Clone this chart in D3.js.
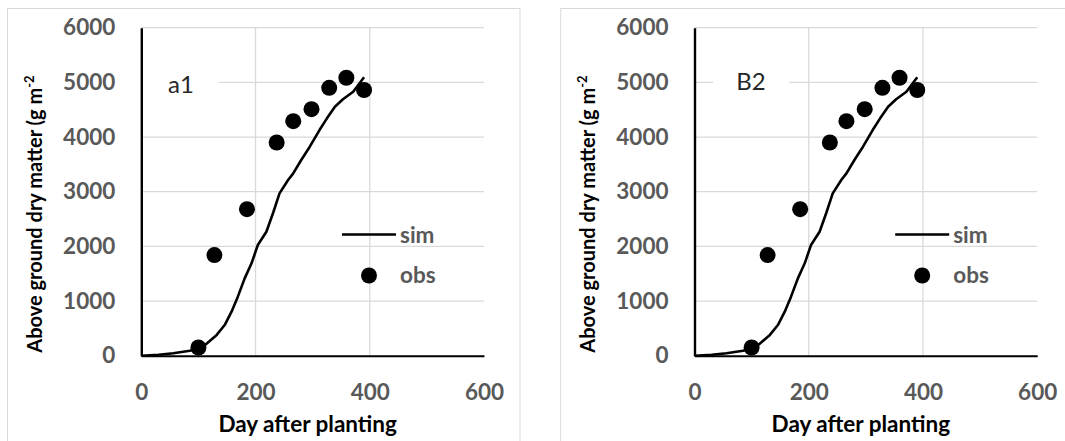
<!DOCTYPE html>
<html>
<head>
<meta charset="utf-8">
<script src="https://cdn.jsdelivr.net/npm/d3@7"></script>
<style>
  html, body { margin: 0; padding: 0; background: #fff; }
  svg { display: block; }
  text { font-family: "Lato", "Open Sans", sans-serif; }
</style>
</head>
<body>
<svg id="chart" width="1065" height="441"></svg>
<script>
// simulated above ground dry matter (line)
var simDays   = [0, 30, 56, 85, 108, 132, 146, 158, 169, 181, 193, 204, 219, 231, 242, 257, 266, 280, 295, 312, 325, 339, 353, 371, 390];
var simValues = [0, 15, 44, 91, 165, 380, 561, 805, 1080, 1415, 1690, 2025, 2268, 2620, 2970, 3214, 3336, 3580, 3823, 4128, 4342, 4555, 4690, 4829, 5092];
// observed (dots)
var obsDays   = [100, 128, 185, 237, 266, 298, 329, 359, 390];
var obsValues = [150, 1840, 2680, 3900, 4290, 4510, 4900, 5085, 4860];

var xTicks = [0, 200, 400, 600];
var yTicks = [0, 1000, 2000, 3000, 4000, 5000, 6000];
var panelLabels = ["a1", "B2"];
var legendNames = ["sim", "obs"];
var xTitle = "Day after planting";
var yTitle = "Above ground dry matter (g m";

// panel layout
var panelOffsets = [0, 553.2];
var labelX = [181, 751 - 553.2];
var labelY = [93, 90];
var plot = {left: 141.3, top: 27.7, width: 342.7, height: 328};

var svg = d3.select("#chart");

var x = d3.scaleLinear().domain([0, 600]).range([plot.left, plot.left + plot.width]);
var y = d3.scaleLinear().domain([0, 6000]).range([plot.top + plot.height, plot.top]);

var sim = simDays.map(function(d, i) { return {day: d, value: simValues[i]}; });
var obs = obsDays.map(function(d, i) { return {day: d, value: obsValues[i]}; });

var line = d3.line()
    .x(function(d) { return x(d.day); })
    .y(function(d) { return y(d.value); });

panelOffsets.forEach(function(off, p) {
  var g = svg.append("g").attr("transform", "translate(" + off + ",0)");

  // chart area border
  g.append("rect")
      .attr("x", 7.5).attr("y", 8.5)
      .attr("width", 512.5).attr("height", 500)
      .attr("fill", "#fff")
      .attr("stroke", "#d9d9d9")
      .attr("stroke-width", 1);

  // gridlines
  g.append("g").selectAll("line").data(yTicks.slice(1)).enter().append("line")
      .attr("x1", x(0)).attr("x2", x(600))
      .attr("y1", function(d) { return y(d); }).attr("y2", function(d) { return y(d); })
      .attr("stroke", "#d9d9d9").attr("stroke-width", 1.3);
  g.append("g").selectAll("line").data([200, 400]).enter().append("line")
      .attr("y1", y(0)).attr("y2", y(6000))
      .attr("x1", function(d) { return x(d); }).attr("x2", function(d) { return x(d); })
      .attr("stroke", "#d9d9d9").attr("stroke-width", 1.3);

  // axes
  var yAxis = g.append("g")
      .attr("transform", "translate(" + plot.left + ",0)")
      .call(d3.axisLeft(y).tickValues(yTicks).tickFormat(d3.format("d")).tickSize(0).tickPadding(26));
  yAxis.select(".domain").attr("stroke", "#000").attr("stroke-width", 2.4);
  yAxis.selectAll("text")
      .attr("fill", "#595959").attr("font-size", "22.5px").attr("font-weight", "bold")
      .attr("font-family", "Lato");

  var xAxis = g.append("g")
      .attr("transform", "translate(0," + (plot.top + plot.height) + ")")
      .call(d3.axisBottom(x).tickValues(xTicks).tickFormat(d3.format("d")).tickSize(0).tickPadding(28));
  xAxis.select(".domain").attr("stroke", "#000").attr("stroke-width", 2);
  xAxis.selectAll("text")
      .attr("fill", "#595959").attr("font-size", "22.5px").attr("font-weight", "bold")
      .attr("font-family", "Lato");

  // axis titles
  g.append("text")
      .attr("x", (plot.left + plot.left + plot.width) / 2 - 5)
      .attr("y", 432)
      .attr("text-anchor", "middle")
      .attr("font-size", "22.5px").attr("font-weight", "bold")
      .attr("fill", "#000")
      .text(xTitle);

  var yt = g.append("text")
      .attr("transform", "translate(42,214) rotate(-90)")
      .attr("text-anchor", "middle")
      .attr("font-size", "20px").attr("font-weight", "bold")
      .attr("fill", "#000");
  yt.append("tspan").text(yTitle);
  yt.append("tspan").attr("font-size", "13px").attr("dy", "-8").text("-2");

  // panel label with white box over gridline
  g.append("rect")
      .attr("x", labelX[p] - 38).attr("y", labelY[p] - 24)
      .attr("width", 76).attr("height", 32)
      .attr("fill", "#fff");
  g.append("text")
      .attr("x", labelX[p]).attr("y", labelY[p])
      .attr("text-anchor", "middle")
      .attr("font-size", "24px")
      .attr("fill", "#262626")
      .text(panelLabels[p]);

  // simulated line
  g.append("path")
      .datum(sim)
      .attr("fill", "none")
      .attr("stroke", "#000")
      .attr("stroke-width", 2.6)
      .attr("stroke-linejoin", "round")
      .attr("d", line);

  // observed dots
  g.append("g").selectAll("circle").data(obs).enter().append("circle")
      .attr("cx", function(d) { return x(d.day); })
      .attr("cy", function(d) { return y(d.value); })
      .attr("r", 8)
      .attr("fill", "#000");

  // legend
  var lg = g.append("g");
  lg.append("line")
      .attr("x1", 342).attr("x2", 396)
      .attr("y1", 234.5).attr("y2", 234.5)
      .attr("stroke", "#000").attr("stroke-width", 2.6);
  lg.append("circle").attr("cx", 369).attr("cy", 275.5).attr("r", 8).attr("fill", "#000");
  lg.selectAll("text").data(legendNames).enter().append("text")
      .attr("x", 400)
      .attr("y", function(d, i) { return i === 0 ? 242.5 : 283; })
      .attr("font-size", "22.5px").attr("font-weight", "bold")
      .attr("fill", "#595959")
      .text(function(d) { return d; });
});
</script>
</body>
</html>
